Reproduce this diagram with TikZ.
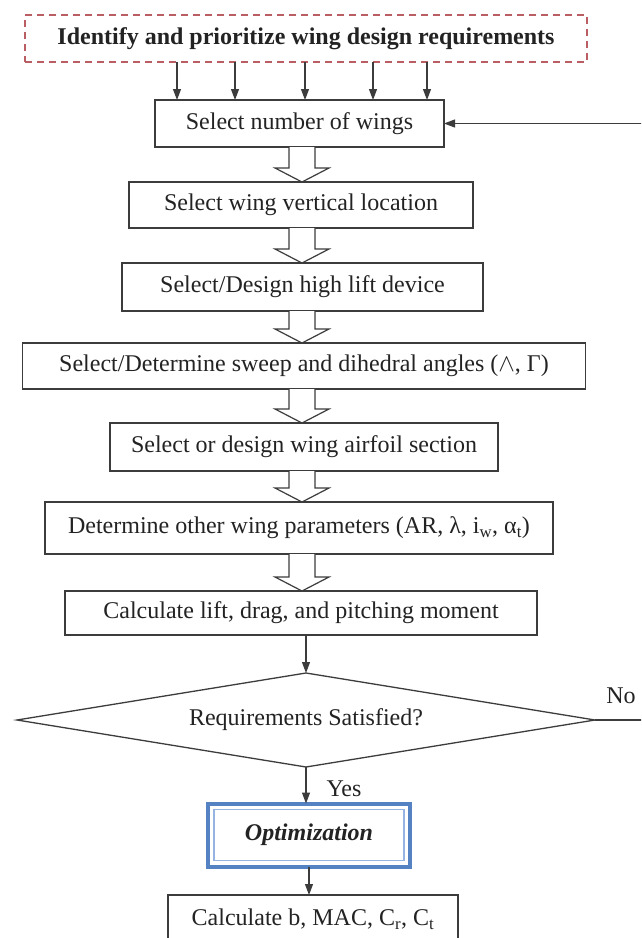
\documentclass[tikz,border=0pt]{standalone}
\usepackage{fontspec}
\setmainfont{Liberation Serif}
\usetikzlibrary{arrows.meta,shapes.geometric,calc}

\definecolor{ink}{RGB}{35,35,35}
\definecolor{edge}{RGB}{60,60,60}
\definecolor{reqred}{RGB}{185,95,100}
\definecolor{optblue}{RGB}{85,130,195}
\definecolor{optlight}{RGB}{150,180,225}

\begin{document}
\begin{tikzpicture}[x=1pt,y=-1pt,
  every node/.style={font=\fontsize{24}{28}\selectfont, text=ink},
  stepbox/.style={draw=edge, line width=1.3pt, rectangle, inner sep=0pt, outer sep=0pt, fill=white},
  thinarrow/.style={draw=edge, line width=1.1pt, -{Triangle[length=11pt,width=8pt]}},
  hollow/.style={draw=edge, line width=1.2pt, fill=white, line join=miter}]

\useasboundingbox (0,0) rectangle (641,938);
\fill[white] (0,0) rectangle (641,938);
\clip (0,0) rectangle (641,938);

% requirements (dashed)
\node[draw=reqred, dash pattern=on 7pt off 5pt, line width=1.3pt,
      minimum width=562pt, minimum height=47pt, inner sep=0pt, outer sep=0pt,
      font=\fontsize{24}{28}\selectfont\bfseries] (req) at (306,38.5)
      {Identify and prioritize wing design requirements};

% design steps
\node[stepbox, minimum width=289pt, minimum height=47pt] (b1) at (299.5,123.5) {Select number of wings};
\node[stepbox, minimum width=344pt, minimum height=46pt] (b2) at (301,205) {Select wing vertical location};
\node[stepbox, minimum width=361pt, minimum height=48pt] (b3) at (302.5,287) {Select/Design high lift device};
\node[stepbox, minimum width=563pt, minimum height=46pt] (b4) at (304,366) {Select/Determine sweep and dihedral angles (\ensuremath{\wedge}, Γ)};
\node[stepbox, minimum width=388pt, minimum height=48pt] (b5) at (304,447) {Select or design wing airfoil section};
\node[stepbox, minimum width=508pt, minimum height=52pt] (b6) at (299,528) {Determine other wing parameters (AR, λ, i\textsubscript{w}, α\textsubscript{t})};
\node[stepbox, minimum width=472pt, minimum height=44pt] (b7) at (301,613) {Calculate lift, drag, and pitching moment};

% decision
\node[diamond, draw=edge, line width=1.3pt, aspect=6, minimum width=578pt, minimum height=94pt,
      inner sep=0pt, outer sep=0pt] (dec) at (306,720) {Requirements Satisfied?};

% optimization (double blue frame)
\node[draw=optblue, line width=4pt, minimum width=202pt, minimum height=63pt, inner sep=0pt, outer sep=0pt,
      font=\fontsize{24}{28}\selectfont\bfseries\itshape] (opt) at (309,835) {Optimization};
\draw[optlight, line width=1.2pt] ($(opt.south west)+(6,-6)$) rectangle ($(opt.north east)+(-6,6)$);

% final sizing
\node[stepbox, minimum width=290pt, minimum height=48pt] (fin) at (313,919) {Calculate b, MAC, C\textsubscript{r}, C\textsubscript{t}};

% requirement arrows into the first step
\foreach \i/\x in {1/177,2/235,3/305,4/373,5/427}{
  \coordinate (c\i) at (\x,0);
  \draw[thinarrow] (req.south -| c\i) -- (b1.north -| c\i);
}

% hollow block arrows between steps
\coordinate (axis) at (302,0);
\foreach \a/\b in {b1/b2,b2/b3,b3/b4,b4/b5,b5/b6,b6/b7}{
  \draw[hollow] ($(\a.south -| axis)+(-13,0)$) -- ($(\b.north -| axis)+(-13,-14)$)
    -- ($(\b.north -| axis)+(-27,-14)$) -- (\b.north -| axis)
    -- ($(\b.north -| axis)+(27,-14)$) -- ($(\b.north -| axis)+(13,-14)$)
    -- ($(\a.south -| axis)+(13,0)$);
}

% flow below the steps
\draw[thinarrow] (b7.south -| dec.north) -- (dec.north);
\draw[thinarrow] (dec.south) -- (dec.south |- opt.north);
\node[anchor=west] (yes) at ($(dec.south)+(17,22)$) {Yes};
\draw[thinarrow] (opt.south) -- (opt.south |- fin.north);

% loop back when requirements are not met
\draw[thinarrow] (dec.east) -- ++(150,0) |- (b1.east);
\node (no) at ($(dec.east)+(26,-24)$) {No};

\end{tikzpicture}
\end{document}
